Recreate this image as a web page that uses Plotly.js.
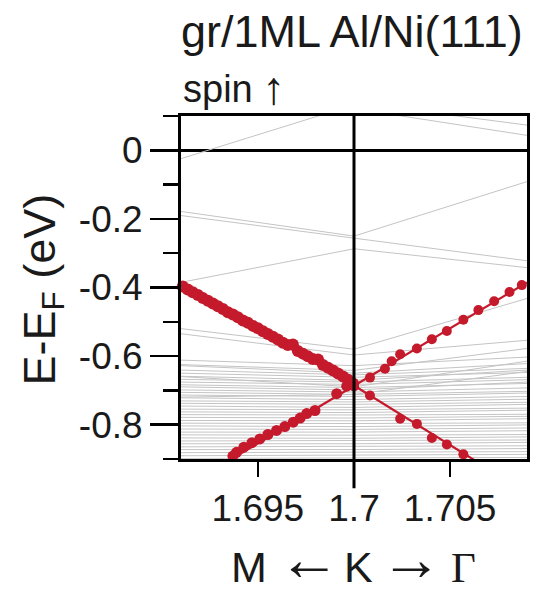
<!DOCTYPE html>
<html>
<head>
<meta charset="utf-8">
<script src="https://cdn.plot.ly/plotly-3.0.1.min.js"></script>
<style>
  html, body { margin: 0; padding: 0; background: #ffffff; }
  #chart { width: 543px; height: 592px; }
</style>
</head>
<body>
<div id="chart"></div>
<script>
// Momentum grid (1/Å) used for the background bands
const bandK = [1.691, 1.700, 1.709];

// Background bands of the slab: energy (eV) at each point of bandK
const bandEnergies = [
  [-0.024, 0.132, 0.290],
  [0.200, 0.121, 0.044],
  [0.205, 0.139, 0.074],
  [-0.178, -0.250, -0.091],
  [-0.190, -0.257, -0.322],
  [-0.385, -0.287, -0.342],
  [-0.520, -0.580, -0.432],
  [-0.535, -0.597, -0.554],
  [-0.625, -0.642, -0.578],
  [-0.612, -0.628, -0.603],
  [-0.660, -0.690, -0.615],
  [-0.628, -0.650, -0.622],
  [-0.641, -0.655, -0.636],
  [-0.650, -0.662, -0.648],
  [-0.659, -0.671, -0.641],
  [-0.668, -0.676, -0.662],
  [-0.676, -0.683, -0.669],
  [-0.684, -0.692, -0.680],
  [-0.690, -0.699, -0.676],
  [-0.699, -0.705, -0.693],
  [-0.720, -0.712, -0.645],
  [-0.706, -0.712, -0.703],
  [-0.714, -0.718, -0.708],
  [-0.722, -0.727, -0.718],
  [-0.731, -0.734, -0.726],
  [-0.738, -0.741, -0.735],
  [-0.746, -0.750, -0.741],
  [-0.755, -0.757, -0.752],
  [-0.763, -0.765, -0.758],
  [-0.771, -0.772, -0.770],
  [-0.779, -0.781, -0.776],
  [-0.788, -0.789, -0.783],
  [-0.796, -0.797, -0.795],
  [-0.804, -0.806, -0.801],
  [-0.813, -0.814, -0.810],
  [-0.822, -0.822, -0.818],
  [-0.830, -0.831, -0.829],
  [-0.839, -0.840, -0.836],
  [-0.848, -0.847, -0.845],
  [-0.856, -0.856, -0.852],
  [-0.865, -0.864, -0.862],
  [-0.873, -0.873, -0.870],
  [-0.882, -0.881, -0.879],
  [-0.891, -0.890, -0.887],
  [-0.899, -0.898, -0.896]
];

// Graphene Dirac cone: linear dispersion through the crossing point
const coneDownK = [1.6910, 1.7000, 1.7063];
const coneDownE = [-0.393, -0.686, -0.905];
const coneUpK = [1.6935, 1.7000, 1.7090];
const coneUpE = [-0.905, -0.686, -0.385];

// Unfolded graphene-weighted states (markers)
const leftDownK = [1.69109, 1.69135, 1.69161, 1.69188, 1.69214, 1.69240, 1.69266, 1.69292,
  1.69318, 1.69344, 1.69370, 1.69396, 1.69422, 1.69448, 1.69474, 1.69500, 1.69526, 1.69552,
  1.69578, 1.69604, 1.69630, 1.69656, 1.69682, 1.69708, 1.69734, 1.69760, 1.69786, 1.69813,
  1.69839, 1.69865, 1.69891, 1.69917, 1.69943, 1.69969, 1.69995];
const leftDownE = [-0.397, -0.406, -0.414, -0.422, -0.431, -0.439, -0.447, -0.455,
  -0.463, -0.472, -0.479, -0.487, -0.496, -0.503, -0.512, -0.519, -0.528, -0.536,
  -0.544, -0.552, -0.561, -0.568, -0.566, -0.585, -0.593, -0.601, -0.609, -0.610,
  -0.626, -0.634, -0.642, -0.651, -0.660, -0.669, -0.680];
const leftUpK = [1.69370, 1.69389, 1.69427, 1.69469, 1.69510, 1.69552, 1.69597, 1.69640,
  1.69684, 1.69720, 1.69754, 1.69797, 1.69910, 1.69962];
const leftUpE = [-0.892, -0.881, -0.866, -0.853, -0.842, -0.829, -0.817, -0.806,
  -0.793, -0.781, -0.768, -0.759, -0.710, -0.688];
const rightUpK = [1.70000, 1.70083, 1.70161, 1.70196, 1.70240, 1.70327, 1.70405, 1.70483,
  1.70569, 1.70647, 1.70729, 1.70809, 1.70873];
const rightUpE = [-0.688, -0.663, -0.637, -0.615, -0.595, -0.578, -0.551, -0.527,
  -0.494, -0.466, -0.440, -0.413, -0.393];
const rightDownK = [1.70000, 1.70083, 1.70240, 1.70327, 1.70405, 1.70483, 1.70569];
const rightDownE = [-0.688, -0.715, -0.783, -0.798, -0.839, -0.858, -0.887];

// Axis tick labels
const xTickVals = [1.695, 1.7, 1.705];
const xTickText = ['1.695', '1.7', '1.705'];
const yTickVals = [0, -0.2, -0.4, -0.6, -0.8];
const yTickText = ['0', '-0.2', '-0.4', '-0.6', '-0.8'];
const yMinorVals = [0.1, -0.1, -0.3, -0.5, -0.7, -0.9];

// Path label under the momentum axis: symbol, font, horizontal position (paper)
const pathLabels = ['M', '\u2190', 'K', '\u2192', '\u0393'];
const pathFonts = ['sans', 'arrow', 'sans', 'arrow', 'serif'];
const pathX = [0.197, 0.370, 0.513, 0.665, 0.816];

const RED = '#c41a2b';
const GREY = 'rgb(196,196,196)';
const INK = '#1a1a1a';
const FONT = 'Liberation Sans, Arial, Helvetica, sans-serif';
const FAMILIES = {
  sans: FONT,
  arrow: FONT,
  serif: 'Liberation Serif, Times New Roman, serif'
};

const traces = [];

bandEnergies.forEach(function (e) {
  traces.push({
    type: 'scatter', mode: 'lines', x: bandK, y: e,
    line: { color: GREY, width: 1 }, hoverinfo: 'skip', showlegend: false
  });
});

[[coneDownK, coneDownE], [coneUpK, coneUpE]].forEach(function (p) {
  traces.push({
    type: 'scatter', mode: 'lines', x: p[0], y: p[1],
    line: { color: RED, width: 2.2 }, hoverinfo: 'skip', showlegend: false
  });
});

[[leftDownK, leftDownE, 12], [leftUpK, leftUpE, 11],
 [rightUpK, rightUpE, 10], [rightDownK, rightDownE, 10]].forEach(function (p) {
  traces.push({
    type: 'scatter', mode: 'markers', x: p[0], y: p[1], cliponaxis: false,
    marker: { color: RED, size: p[2], line: { width: 0 } },
    hoverinfo: 'skip', showlegend: false
  });
});

const annotations = [
  { text: 'gr/1ML Al/Ni(111)', xref: 'paper', yref: 'paper', x: -0.005, y: 1.245,
    xanchor: 'left', yanchor: 'middle', showarrow: false,
    font: { family: FONT, size: 45, color: INK } },
  { text: 'spin', xref: 'paper', yref: 'paper', x: 0, y: 1.08,
    xanchor: 'left', yanchor: 'middle', showarrow: false,
    font: { family: FONT, size: 38, color: INK } },
  { text: '\u2191', xref: 'paper', yref: 'paper', x: 0.266, y: 1.083,
    xanchor: 'center', yanchor: 'middle', showarrow: false,
    font: { family: FONT, size: 46, color: INK } },
  { text: 'E-E<sub>F</sub> (eV)', xref: 'paper', yref: 'paper', x: -0.4, y: 0.493,
    xanchor: 'center', yanchor: 'middle', textangle: -90, showarrow: false,
    font: { family: FONT, size: 45, color: INK } }
];
pathLabels.forEach(function (t, i) {
  const isArrow = pathFonts[i] === 'arrow';
  annotations.push({
    text: t, xref: 'paper', yref: 'paper', x: pathX[i], y: isArrow ? -0.29 : -0.315,
    xanchor: 'center', yanchor: 'middle', showarrow: false,
    font: { family: FAMILIES[pathFonts[i]], size: isArrow ? 62 : 43, color: INK }
  });
});

const layout = {
  width: 543, height: 592,
  margin: { l: 181, r: 16, t: 116, b: 133, pad: 0 },
  paper_bgcolor: '#ffffff', plot_bgcolor: '#ffffff',
  font: { family: FONT, color: INK, size: 37 },
  showlegend: false,
  hovermode: false,
  xaxis: {
    range: [1.691, 1.709],
    tickmode: 'array', tickvals: xTickVals, ticktext: xTickText,
    ticks: 'outside', ticklen: 15, tickwidth: 2.5, tickcolor: 'black',
    tickfont: { family: FONT, size: 37, color: INK },
    showgrid: false, zeroline: false,
    showline: true, linecolor: 'black', linewidth: 3, mirror: true
  },
  yaxis: {
    range: [-0.9005, 0.1005],
    tickmode: 'array', tickvals: yTickVals, ticktext: yTickText,
    ticks: 'outside', ticklen: 28, tickwidth: 2.5, tickcolor: 'black',
    tickfont: { family: FONT, size: 37, color: INK },
    minor: { tickmode: 'array', tickvals: yMinorVals, ticks: 'outside', ticklen: 15,
             tickwidth: 2.5, tickcolor: 'black', showgrid: false },
    showgrid: false,
    zeroline: true, zerolinecolor: 'black', zerolinewidth: 3,
    showline: true, linecolor: 'black', linewidth: 3, mirror: true
  },
  shapes: [
    { type: 'line', xref: 'x', yref: 'paper', x0: 1.7, x1: 1.7, y0: -0.085, y1: 1,
      line: { color: 'black', width: 3 }, layer: 'above' }
  ],
  annotations: annotations
};

Plotly.newPlot('chart', traces, layout, { staticPlot: true, displayModeBar: false });
</script>
</body>
</html>
